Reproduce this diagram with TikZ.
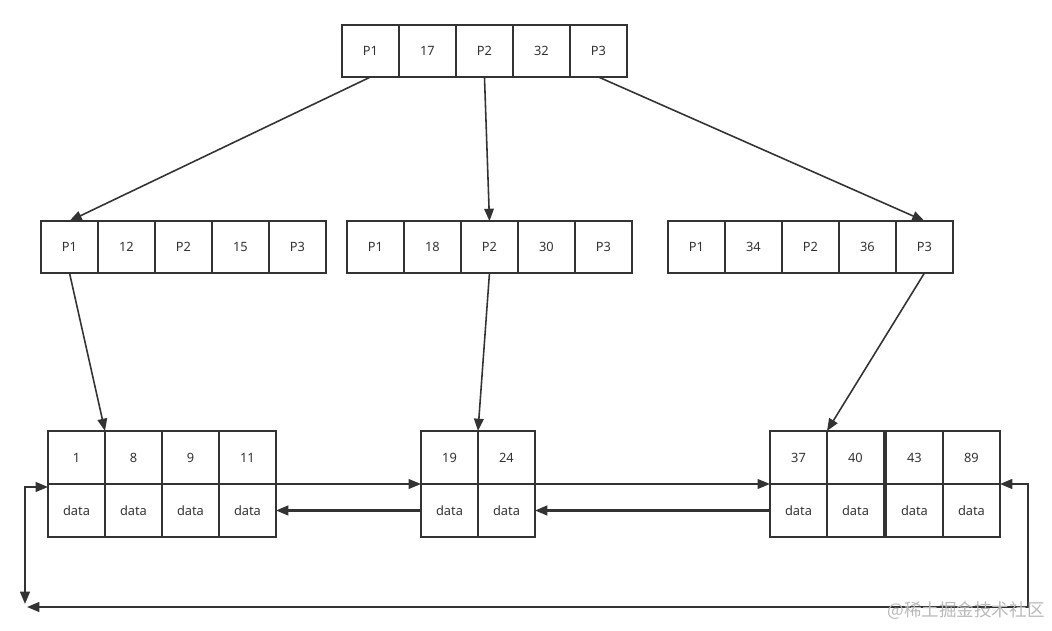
\documentclass[tikz,border=0pt]{standalone}
\usepackage{fontspec}
\setmainfont{Noto Sans}
\newfontfamily\cjk{Noto Sans CJK SC}
\usepackage{xcolor}
\usepackage{tikz}
\usetikzlibrary{positioning,arrows.meta,calc}
\definecolor{ink}{HTML}{333333}

\begin{document}
\begin{tikzpicture}[
    x=0.02cm, y=-0.02cm,
    >={Triangle[length=7pt,width=5.5pt]},
    cell/.style={draw=ink, line width=1.1pt, minimum width=1.14cm, minimum height=1.04cm, inner sep=0pt, outer sep=0pt},
    leafcell/.style={cell, minimum height=1.06cm},
    conn/.style={draw=ink, line width=0.9pt},
    back/.style={conn, line width=1.2pt},
    every node/.style={font=\fontsize{7.3}{8}\selectfont, text=ink}
  ]
    \useasboundingbox (0,0) rectangle (1052,631);
    % Root
    \node[cell] (r1) at (370.5,51) {P1};
    \node[cell, right=0pt of r1] (r2) {17};
    \node[cell, right=0pt of r2] (r3) {P2};
    \node[cell, right=0pt of r3] (r4) {32};
    \node[cell, right=0pt of r4] (r5) {P3};
    % Second level
    \node[cell] (a1) at (69.5,247) {P1};
    \node[cell, right=0pt of a1] (a2) {12};
    \node[cell, right=0pt of a2] (a3) {P2};
    \node[cell, right=0pt of a3] (a4) {15};
    \node[cell, right=0pt of a4] (a5) {P3};
    \node[cell] (b1) at (375.5,247) {P1};
    \node[cell, right=0pt of b1] (b2) {18};
    \node[cell, right=0pt of b2] (b3) {P2};
    \node[cell, right=0pt of b3] (b4) {30};
    \node[cell, right=0pt of b4] (b5) {P3};
    \node[cell] (c1) at (696.5,247) {P1};
    \node[cell, right=0pt of c1] (c2) {34};
    \node[cell, right=0pt of c2] (c3) {P2};
    \node[cell, right=0pt of c3] (c4) {36};
    \node[cell, right=0pt of c4] (c5) {P3};
    % Leaves
    \node[leafcell] (l1k1) at (76.5,457.5) {1};
    \node[leafcell, right=0pt of l1k1] (l1k2) {8};
    \node[leafcell, right=0pt of l1k2] (l1k3) {9};
    \node[leafcell, right=0pt of l1k3] (l1k4) {11};
    \node[leafcell, below=0pt of l1k1] (l1d1) {data};
    \node[leafcell, below=0pt of l1k2] (l1d2) {data};
    \node[leafcell, below=0pt of l1k3] (l1d3) {data};
    \node[leafcell, below=0pt of l1k4] (l1d4) {data};
    \node[leafcell] (l2k1) at (449.5,457.5) {19};
    \node[leafcell, right=0pt of l2k1] (l2k2) {24};
    \node[leafcell, below=0pt of l2k1] (l2d1) {data};
    \node[leafcell, below=0pt of l2k2] (l2d2) {data};
    \node[leafcell] (l3k1) at (798.5,457.5) {37};
    \node[leafcell, right=0pt of l3k1] (l3k2) {40};
    \node[leafcell, right=0.04cm of l3k2] (l3k3) {43};
    \node[leafcell, right=0pt of l3k3] (l3k4) {89};
    \node[leafcell, below=0pt of l3k1] (l3d1) {data};
    \node[leafcell, below=0pt of l3k2] (l3d2) {data};
    \node[leafcell, below=0pt of l3k3] (l3d3) {data};
    \node[leafcell, below=0pt of l3k4] (l3d4) {data};
    % Pointers down the tree
    \draw[conn, ->] (r1.south) -- (a1.north);
    \draw[conn, ->] (r3.south) -- (b3.north);
    \draw[conn, ->] (r5.south) -- (c5.north);
    \draw[conn, ->] (a1.south) -- (l1k1.north east);
    \draw[conn, ->] (b3.south) -- (l2k1.north east);
    \draw[conn, ->] (c5.south) -- (l3k1.north east);
    % Leaf links
    \draw[conn, ->] (l1k4.south east) -- (l2k1.south west);
    \draw[conn, ->] (l2k2.south east) -- (l3k1.south west);
    \draw[back, ->] (l2d1.west) -- (l1d4.east);
    \draw[back, ->] (l3d1.west) -- (l2d2.east);
    % Wrap-around
    \coordinate (loopL) at (25,604);
    \coordinate (loopB) at (27,607);
    \coordinate (loopR) at (1028,607);
    \draw[back, <->] (loopL) |- ($(l1d1.north west)+(0,3)$);
    \draw[back, <->] (loopB) -- (loopR) |- (l3d4.north east);
    % Watermark
    \node[font=\cjk\fontsize{10}{12}\selectfont, text=gray!55] (mark) at (966,611) {@稀土掘金技术社区};
\end{tikzpicture}
\end{document}
